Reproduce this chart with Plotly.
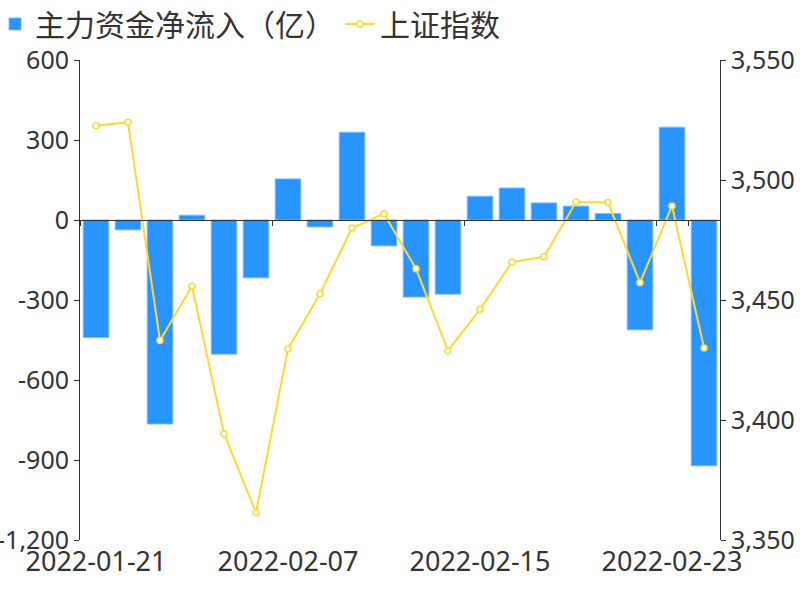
import plotly.graph_objects as go

dates = ["2022-01-21", "2022-01-24", "2022-01-25", "2022-01-26", "2022-01-27", "2022-01-28",
         "2022-02-07", "2022-02-08", "2022-02-09", "2022-02-10", "2022-02-11", "2022-02-14",
         "2022-02-15", "2022-02-16", "2022-02-17", "2022-02-18", "2022-02-21", "2022-02-22",
         "2022-02-23", "2022-02-24"]
net_inflow = [-441, -37, -765, 18, -503, -217, 154, -26, 329, -97, -289, -278,
              89, 120, 64, 52, 24, -412, 348, -922]
sse_index = [3522.6, 3524.1, 3433.1, 3455.7, 3394.3, 3361.4, 3429.6, 3452.6, 3480.0, 3485.9,
             3463.0, 3428.9, 3446.1, 3465.8, 3468.0, 3490.8, 3490.6, 3457.2, 3489.2, 3430.0]
label_dates = [dates[0], dates[6], dates[12], dates[18]]
left_ticks = [-1200, -900, -600, -300, 0, 300, 600]
left_ticktext = ["-1,200", "-900", "-600", "-300", "0", "300", "600"]
right_ticks = [3350, 3400, 3450, 3500, 3550]
right_ticktext = ["3,350", "3,400", "3,450", "3,500", "3,550"]

FONT = "Noto Sans, Noto Sans CJK SC"
TXT = "#333333"
TICK_SIZE = 25

fig = go.Figure()
fig.add_trace(go.Bar(
    x=dates, y=net_inflow, name="主力资金净流入（亿）",
    marker=dict(color="#2894FF", line=dict(color="rgba(120,185,255,0.9)", width=1)),
    width=0.8, xaxis="x", yaxis="y",
))
fig.add_trace(go.Scatter(
    x=dates, y=sse_index, name="上证指数", mode="lines+markers",
    line=dict(color="#FFD92F", width=2),
    marker=dict(symbol="circle", size=6, color="white", line=dict(color="#FFD92F", width=1.5)),
    xaxis="x2", yaxis="y2",
))

fig.update_layout(
    width=800, height=600,
    margin=dict(l=80, r=80, t=60, b=60, autoexpand=False),
    paper_bgcolor="white", plot_bgcolor="white",
    font=dict(family=FONT, color=TXT, size=TICK_SIZE),
    showlegend=True,
    legend=dict(orientation="h", x=-85 / 640, y=1 + 62 / 480, xanchor="left", yanchor="top",
                font=dict(size=30, color=TXT, family="Noto Sans CJK SC"),
                bgcolor="rgba(0,0,0,0)", itemwidth=30, tracegroupgap=0),
    bargap=0.2,
    xaxis=dict(type="category", categoryorder="array", categoryarray=dates,
               range=[-0.5, 19.5], tickmode="array", tickvals=label_dates,
               ticks="", showline=False, showgrid=False, zeroline=False,
               tickfont=dict(size=27, color=TXT), anchor="y", automargin=False,
               ticklabelstandoff=3),
    xaxis2=dict(type="category", categoryorder="array", categoryarray=dates,
                matches="x", overlaying="x", anchor="free", position=2 / 3,
                tickmode="array", tickvals=label_dates, tickson="boundaries",
                ticks="outside", ticklen=5, tickcolor=TXT, showticklabels=False,
                showline=True, linecolor=TXT, linewidth=1, showgrid=False, zeroline=False),
    yaxis=dict(range=[-1200, 600], tickmode="array", tickvals=left_ticks,
               ticktext=left_ticktext, showgrid=False, zeroline=False,
               showline=True, linecolor=TXT, linewidth=1, ticks="outside", ticklen=5,
               tickcolor=TXT, tickfont=dict(size=TICK_SIZE, color=TXT), side="left",
               automargin=False),
    yaxis2=dict(range=[3350, 3550], tickmode="array", tickvals=right_ticks,
                ticktext=right_ticktext, showgrid=False, zeroline=False, overlaying="y",
                side="right", anchor="x", showline=True, linecolor=TXT, linewidth=1,
                ticks="outside", ticklen=5, tickcolor=TXT,
                tickfont=dict(size=TICK_SIZE, color=TXT), automargin=False),
)

fig.write_html("out.html")
